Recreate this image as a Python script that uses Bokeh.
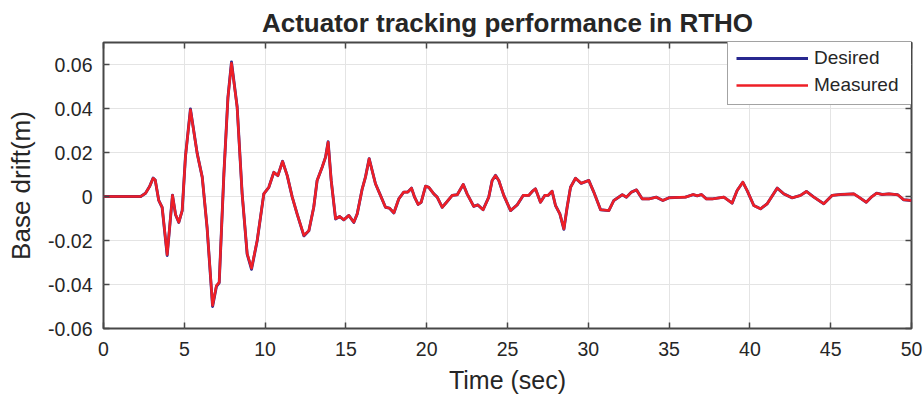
from bokeh.plotting import figure
from bokeh.models import Range1d, LinearAxis, FixedTicker, Legend, LegendItem, ColumnDataSource
from bokeh.embed import file_html
from bokeh.resources import INLINE

# Base drift record (m) sampled over the 50 s test
time_s = [
    0.0, 1.0, 2.3, 2.6, 2.85, 3.07, 3.2, 3.42, 3.63, 3.94, 4.27, 4.46, 4.66, 4.87,
    5.07, 5.38, 5.8, 6.11, 6.41, 6.75, 6.99, 7.16, 7.45, 7.7, 7.92, 8.27, 8.58,
    8.89, 9.16, 9.51, 9.92, 10.23, 10.54, 10.79, 11.08, 11.37, 11.68, 11.98, 12.4,
    12.71, 13.01, 13.22, 13.53, 13.74, 13.9, 14.09, 14.36, 14.62, 14.87, 15.18,
    15.49, 15.7, 16.01, 16.21, 16.44, 16.83, 17.14, 17.45, 17.7, 17.97, 18.27,
    18.58, 18.83, 19.06, 19.25, 19.47, 19.66, 19.93, 20.13, 20.44, 20.65, 20.96,
    21.23, 21.58, 21.89, 22.26, 22.5, 22.91, 23.16, 23.49, 23.84, 24.05, 24.26,
    24.46, 24.77, 25.19, 25.6, 25.97, 26.32, 26.53, 26.73, 27.04, 27.31, 27.51,
    27.76, 27.97, 28.24, 28.49, 28.69, 28.9, 29.21, 29.56, 30.03, 30.34, 30.76,
    31.27, 31.58, 32.1, 32.36, 32.67, 32.98, 33.34, 33.75, 34.2, 34.61, 34.98,
    36.01, 36.49, 36.74, 37.0, 37.31, 37.67, 38.39, 38.9, 39.21, 39.56, 39.83,
    40.24, 40.66, 41.07, 41.69, 42.1, 42.62, 43.13, 43.5, 43.96, 44.57, 45.09,
    45.61, 46.43, 46.74, 47.2, 47.51, 47.84, 48.19, 48.6, 49.15, 49.52, 50.0,
]

desired_m = [
    0.0, 0.0, 0.0, 0.0015, 0.0045, 0.0084, 0.0075, -0.0018, -0.005, -0.0268,
    0.0006, -0.0083, -0.0118, -0.0064, 0.018, 0.0398, 0.0195, 0.0088, -0.0141,
    -0.05, -0.0408, -0.0392, 0.0103, 0.045, 0.0612, 0.0408, 0.0012, -0.0262,
    -0.0331, -0.0201, 0.0012, 0.0042, 0.011, 0.0095, 0.016, 0.0095, -0.0003,
    -0.0079, -0.0179, -0.0156, -0.0049, 0.0073, 0.0133, 0.0179, 0.0249, 0.0073,
    -0.0102, -0.0091, -0.0106, -0.0086, -0.0118, -0.0079, 0.0035, 0.0088, 0.0172,
    0.0058, 0.0005, -0.0049, -0.0053, -0.0075, -0.0011, 0.002, 0.002, 0.0038,
    -0.0003, -0.0036, -0.0026, 0.0047, 0.0042, 0.0012, -0.0003, -0.0049, -0.0026,
    0.0005, 0.0008, 0.0055, 0.0012, -0.0045, -0.0038, -0.006, -0.0003, 0.0073,
    0.0096, 0.0073, 0.0005, -0.0064, -0.0038, 0.0005, 0.0005, 0.0023, 0.0035,
    -0.0026, 0.0005, 0.0005, 0.0024, -0.0041, -0.0079, -0.0149, -0.0049, 0.0042,
    0.0083, 0.006, 0.0073, 0.002, -0.006, -0.0064, -0.0018, 0.0008, -0.0003,
    0.002, 0.003, -0.0011, -0.0011, -0.0003, -0.0018, -0.0006, -0.0003, 0.0009,
    0.0003, 0.0009, -0.0011, -0.0011, -0.0003, -0.003, 0.0027, 0.0065, 0.0027,
    -0.0041, -0.0056, -0.0033, 0.0038, 0.0012, -0.0006, 0.0005, 0.0023, -0.0003,
    -0.0033, 0.0005, 0.0009, 0.0012, -0.0003, -0.0026, -0.0003, 0.0015, 0.0009,
    0.0012, 0.0008, -0.0015, -0.0018,
]

measured_m = [
    0.0, 0.0, 0.0, 0.0015, 0.0045, 0.0083, 0.0075, -0.0018, -0.0049, -0.0264,
    0.0005, -0.0082, -0.0117, -0.0064, 0.018, 0.0394, 0.0194, 0.0088, -0.014,
    -0.0495, -0.0405, -0.039, 0.0103, 0.0448, 0.0606, 0.0406, 0.0012, -0.026,
    -0.0326, -0.02, 0.0012, 0.0042, 0.011, 0.0095, 0.0159, 0.0095, -0.0003,
    -0.0079, -0.0177, -0.0155, -0.0049, 0.0073, 0.0133, 0.0179, 0.0247, 0.0073,
    -0.0101, -0.0091, -0.0106, -0.0086, -0.0117, -0.0079, 0.0035, 0.0088, 0.0171,
    0.0058, 0.0005, -0.0049, -0.0053, -0.0074, -0.0011, 0.002, 0.002, 0.0038,
    -0.0003, -0.0036, -0.0026, 0.0047, 0.0042, 0.0012, -0.0003, -0.0049, -0.0026,
    0.0005, 0.0008, 0.0055, 0.0012, -0.0045, -0.0038, -0.006, -0.0003, 0.0073,
    0.0095, 0.0073, 0.0005, -0.0064, -0.0038, 0.0005, 0.0005, 0.0023, 0.0035,
    -0.0026, 0.0005, 0.0005, 0.0024, -0.0041, -0.0079, -0.0147, -0.0049, 0.0042,
    0.0083, 0.006, 0.0073, 0.002, -0.006, -0.0064, -0.0018, 0.0008, -0.0003,
    0.002, 0.003, -0.0011, -0.0011, -0.0003, -0.0018, -0.0006, -0.0003, 0.0009,
    0.0003, 0.0009, -0.0011, -0.0011, -0.0003, -0.003, 0.0027, 0.0065, 0.0027,
    -0.0041, -0.0056, -0.0033, 0.0038, 0.0012, -0.0006, 0.0005, 0.0023, -0.0003,
    -0.0033, 0.0005, 0.0009, 0.0012, -0.0003, -0.0026, -0.0003, 0.0015, 0.0009,
    0.0012, 0.0008, -0.0015, -0.0018,
]

x_ticks = [0, 5, 10, 15, 20, 25, 30, 35, 40, 45, 50]
y_ticks = [-0.06, -0.04, -0.02, 0.0, 0.02, 0.04, 0.06]
y_tick_labels = ["-0.06", "-0.04", "-0.02", "0", "0.02", "0.04", "0.06"]

FONT = "Liberation Sans"
INK = "#262626"
EDGE = "#474747"
GRID = "#e4e4e4"
BLUE = "#28288f"
RED = "#ee1f26"

src = ColumnDataSource(data=dict(t=time_s, desired=desired_m, measured=measured_m))

p = figure(
    width=924, height=404, output_backend="svg", toolbar_location=None,
    x_range=Range1d(0, 50), y_range=Range1d(-0.06, 0.07),
    min_border_left=103, min_border_right=13, min_border_top=42, min_border_bottom=76,
    x_axis_label="Time (sec)", y_axis_label="Base drift(m)",
    title="Actuator tracking performance in RTHO",
)
p.background_fill_color = "white"
p.border_fill_color = "white"
p.outline_line_color = EDGE
p.outline_line_width = 2

p.title.align = "center"
p.title.text_font = FONT
p.title.text_font_size = "26px"
p.title.text_font_style = "bold"
p.title.text_color = INK
p.title.standoff = 10

bottom_axis = p.below[0]
left_axis = p.left[0]
bottom_axis.ticker = FixedTicker(ticks=x_ticks)
left_axis.ticker = FixedTicker(ticks=y_ticks)
left_axis.major_label_overrides = {v: s for v, s in zip(y_ticks, y_tick_labels)}

# Mirror axes on top and right carry only the inward ticks
top_axis = LinearAxis(ticker=FixedTicker(ticks=x_ticks))
right_axis = LinearAxis(ticker=FixedTicker(ticks=y_ticks))
for ax in (top_axis, right_axis):
    ax.major_label_text_font_size = "1px"
    ax.major_label_text_color = None
    ax.major_label_standoff = 0
p.add_layout(top_axis, "above")
p.add_layout(right_axis, "right")

for ax in (bottom_axis, left_axis, top_axis, right_axis):
    ax.axis_line_color = None
    ax.major_tick_in = 6
    ax.major_tick_out = 0
    ax.major_tick_line_color = EDGE
    ax.major_tick_line_width = 1.5
    ax.minor_tick_line_color = None
    ax.axis_label_text_font = FONT
    ax.axis_label_text_font_style = "normal"
    ax.axis_label_text_color = INK
    ax.axis_label_text_font_size = "25px"

for ax in (bottom_axis, left_axis):
    ax.major_label_text_font = FONT
    ax.major_label_text_color = INK
    ax.major_label_text_font_size = "19.5px"

left_axis.axis_label_text_font_size = "26px"
bottom_axis.major_label_standoff = 13
bottom_axis.axis_label_standoff = 7
left_axis.major_label_standoff = 11
left_axis.axis_label_standoff = 9

p.xgrid.ticker = FixedTicker(ticks=x_ticks)
p.ygrid.ticker = FixedTicker(ticks=y_ticks)
p.grid.grid_line_color = GRID
p.grid.grid_line_width = 1

r_des = p.line("t", "desired", source=src, line_color=BLUE, line_width=2.9,
               line_join="round")
r_meas = p.line("t", "measured", source=src, line_color=RED, line_width=2.6,
                line_join="round")

legend = Legend(
    items=[LegendItem(label="Desired", renderers=[r_des]),
           LegendItem(label="Measured", renderers=[r_meas])],
    location=(624, 223), margin=0, padding=8, spacing=5,
    glyph_width=72, glyph_height=20, label_standoff=6, label_width=91,
    label_text_font=FONT, label_text_font_size="19px", label_text_color=INK,
    border_line_color=EDGE, border_line_width=1.5,
    background_fill_color="white", background_fill_alpha=1.0,
)
p.add_layout(legend, "center")

with open("out.html", "w") as f:
    f.write(file_html(p, INLINE))
